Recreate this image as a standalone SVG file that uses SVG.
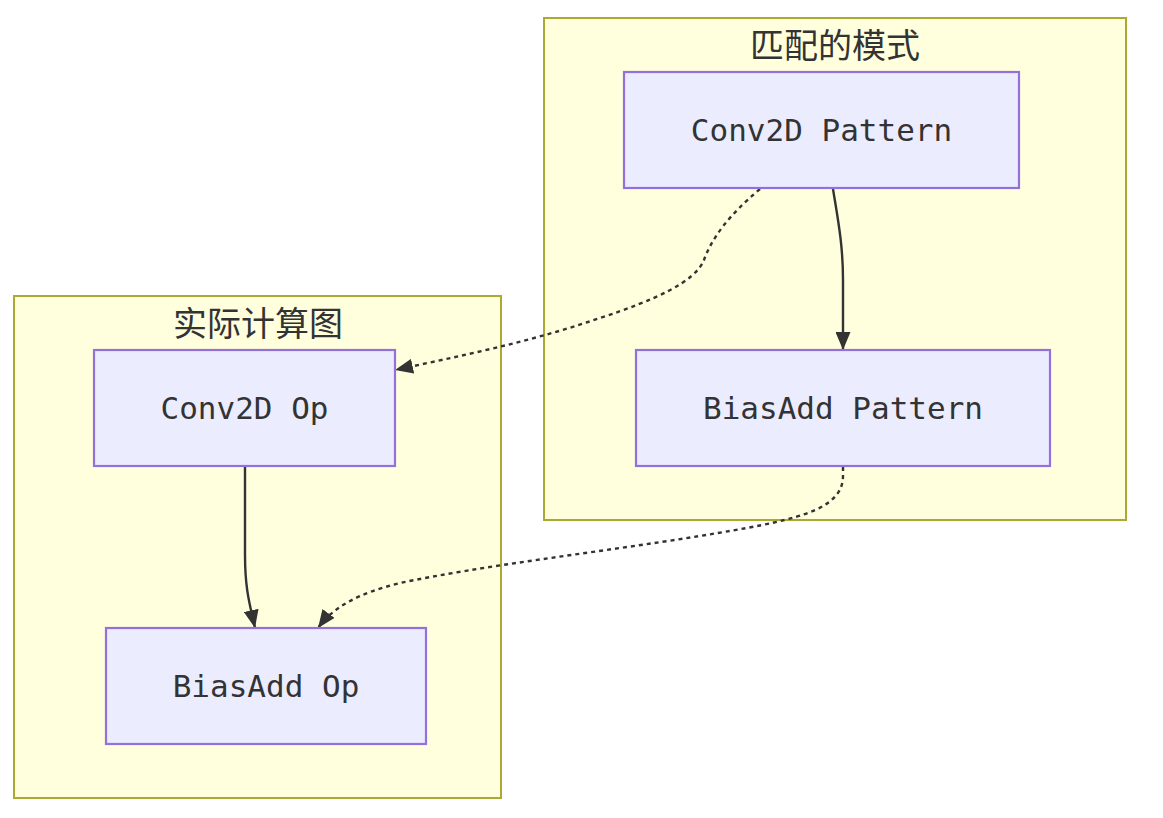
<svg xmlns="http://www.w3.org/2000/svg" width="1163" height="818" viewBox="0 0 1163 818">
<style>
.cluster{fill:#ffffde;stroke:#aaaa33;stroke-width:2}
.node{fill:#ececff;stroke:#9370db;stroke-width:2.2}
.lbl{font-family:"DejaVu Sans Mono","Liberation Mono",monospace;font-size:31px;fill:#333;text-anchor:middle;dominant-baseline:central}
.title{font-family:"Noto Sans CJK SC","Noto Sans",sans-serif;font-size:34px;fill:#333;text-anchor:middle;dominant-baseline:central}
.edge{fill:none;stroke:#333;stroke-width:2.4}
.dot{stroke-dasharray:4 4}
</style>
<defs>
<marker id="arrow" viewBox="0 0 12 10" refX="12" refY="5" markerWidth="18" markerHeight="15" markerUnits="userSpaceOnUse" orient="auto">
<path d="M0,0 L12,5 L0,10 z" fill="#333"/>
</marker>
</defs>
<g id="cluster-pattern">
<rect class="cluster" x="544" y="18" width="582" height="502"/>
<text class="title" x="835" y="43">匹配的模式</text>
</g>
<g id="cluster-graph">
<rect class="cluster" x="14" y="296" width="487" height="502"/>
<text class="title" x="258" y="321">实际计算图</text>
</g>
<g id="edges">
<path class="edge" d="M833,189 C838,220 843,245 843,280 L843,350" marker-end="url(#arrow)"/>
<path class="edge dot" d="M760,189 C728,216 712,238 704,260 C695,282 655,300 600,318 C530,342 460,356 395,370" marker-end="url(#arrow)"/>
<path class="edge" d="M245,467 L245,555 C245,590 250,605 255,628" marker-end="url(#arrow)"/>
<path class="edge dot" d="M843,467 L843,476 C843,512 790,521 700,536 C600,552 480,566 400,583 C360,593 334,606 318,628" marker-end="url(#arrow)"/>
</g>
<g id="node-conv2d-pattern">
<rect class="node" x="624" y="72" width="395" height="116"/>
<text class="lbl" x="821.5" y="130">Conv2D Pattern</text>
</g>
<g id="node-biasadd-pattern">
<rect class="node" x="636" y="350" width="414" height="116"/>
<text class="lbl" x="843" y="408">BiasAdd Pattern</text>
</g>
<g id="node-conv2d-op">
<rect class="node" x="94" y="350" width="301" height="116"/>
<text class="lbl" x="244.5" y="408">Conv2D Op</text>
</g>
<g id="node-biasadd-op">
<rect class="node" x="106" y="628" width="320" height="116"/>
<text class="lbl" x="266" y="686">BiasAdd Op</text>
</g>
</svg>
